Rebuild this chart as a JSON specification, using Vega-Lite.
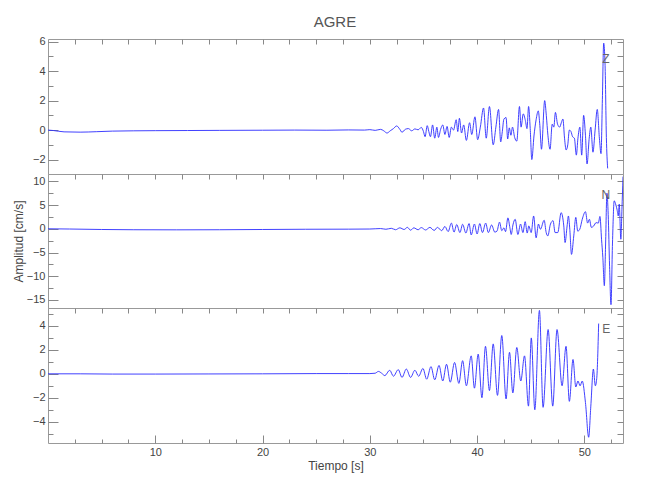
{
  "$schema": "https://vega.github.io/schema/vega-lite/v6.json",
  "background": "white",
  "padding": {"left": 11, "top": 15, "right": 5, "bottom": 5},
  "title": {"text": "AGRE", "font": "Liberation Sans", "fontSize": 15, "fontWeight": "normal", "color": "#555555", "anchor": "middle", "offset": 5, "dx": 17},
  "config": {
    "view": {"stroke": "#999999", "strokeWidth": 1},
    "axis": {"domain": false, "grid": false, "tickColor": "#888888", "tickWidth": 1, "labelColor": "#444444", "labelFont": "Liberation Sans", "labelFontSize": 11, "titleFont": "Liberation Sans", "titleFontSize": 12, "titleColor": "#444444", "titleFontWeight": "normal", "labelOverlap": false, "labelFlush": false},
    "text": {"font": "Liberation Sans"}
  },
  "datasets": {
    "z": [
      {"t":0,"v":0},{"t":0.5,"v":-0.03},{"t":1.5,"v":-0.12},{"t":3,"v":-0.14},{"t":4.5,"v":-0.11},{"t":6,"v":-0.07},{"t":8,"v":-0.05},{"t":10,"v":-0.04},{"t":13,"v":-0.03},{"t":16,"v":-0.02},{"t":20,"v":-0.01},{"t":23,"v":0},{"t":26,"v":-0.01},{"t":28,"v":0.01},{"t":29.5,"v":0},{"t":30,"v":0.03},{"t":30.5,"v":-0.02},{"t":31,"v":0.05},{"t":31.3,"v":-0.05},{"t":31.6,"v":-0.2},{"t":31.9,"v":-0.05},{"t":32.2,"v":0.1},{"t":32.5,"v":0.28},{"t":32.8,"v":0.05},{"t":33.0,"v":-0.15},{"t":33.3,"v":0.05},{"t":33.6,"v":0.1},{"t":33.9,"v":-0.05},{"t":34.2,"v":0.08},{"t":34.5,"v":0.02},{"t":34.8,"v":0.18},{"t":35.0,"v":-0.1},{"t":35.15,"v":-0.45},{"t":35.35,"v":0.3},{"t":35.5,"v":-0.1},{"t":35.65,"v":-0.45},{"t":35.85,"v":0.35},{"t":36.05,"v":-0.55},{"t":36.25,"v":0.2},{"t":36.4,"v":-0.5},{"t":36.6,"v":0.05},{"t":36.8,"v":0.35},{"t":37.0,"v":-0.3},{"t":37.2,"v":0.25},{"t":37.4,"v":-0.5},{"t":37.6,"v":0.2},{"t":37.8,"v":0.0},{"t":38.05,"v":0.7},{"t":38.2,"v":-0.1},{"t":38.35,"v":0.8},{"t":38.55,"v":-0.2},{"t":38.75,"v":0.35},{"t":39.0,"v":-0.7},{"t":39.3,"v":0.5},{"t":39.5,"v":-0.3},{"t":39.8,"v":0.9},{"t":40.05,"v":-0.65},{"t":40.3,"v":0.2},{"t":40.6,"v":1.5},{"t":40.85,"v":-0.55},{"t":41.15,"v":1.6},{"t":41.5,"v":-1.0},{"t":41.75,"v":0.2},{"t":42.0,"v":1.4},{"t":42.2,"v":-0.8},{"t":42.35,"v":-0.1},{"t":42.5,"v":0.75},{"t":42.7,"v":0.85},{"t":42.85,"v":-0.6},{"t":43.0,"v":0.15},{"t":43.15,"v":-0.35},{"t":43.3,"v":0.2},{"t":43.5,"v":-0.5},{"t":43.7,"v":-0.75},{"t":43.95,"v":1.6},{"t":44.1,"v":0.2},{"t":44.3,"v":1.1},{"t":44.5,"v":0.65},{"t":44.65,"v":0.1},{"t":44.8,"v":1.6},{"t":44.95,"v":0.1},{"t":45.1,"v":-2.0},{"t":45.3,"v":-0.4},{"t":45.5,"v":0.7},{"t":45.7,"v":1.3},{"t":45.85,"v":0.3},{"t":46.0,"v":-1.3},{"t":46.3,"v":2.0},{"t":46.45,"v":1.0},{"t":46.6,"v":-0.35},{"t":46.8,"v":-1.3},{"t":47.0,"v":0.4},{"t":47.15,"v":0.2},{"t":47.3,"v":1.2},{"t":47.5,"v":0.4},{"t":47.7,"v":0.2},{"t":47.85,"v":0.5},{"t":48.0,"v":0.75},{"t":48.15,"v":-0.55},{"t":48.3,"v":-1.35},{"t":48.45,"v":-1.0},{"t":48.6,"v":0.0},{"t":48.75,"v":-0.1},{"t":48.9,"v":-0.45},{"t":49.07,"v":-0.55},{"t":49.25,"v":-1.7},{"t":49.4,"v":-0.55},{"t":49.58,"v":0.2},{"t":49.75,"v":-1.7},{"t":49.93,"v":1.0},{"t":50.1,"v":-0.35},{"t":50.25,"v":-2.3},{"t":50.45,"v":-0.55},{"t":50.6,"v":0.2},{"t":50.8,"v":-1.5},{"t":51.0,"v":0.0},{"t":51.2,"v":1.4},{"t":51.4,"v":-0.55},{"t":51.55,"v":-1.6},{"t":51.67,"v":1.8},{"t":51.8,"v":5.9},{"t":51.93,"v":4.4},{"t":52.05,"v":-0.5},{"t":52.17,"v":-2.6}
    ],
    "n": [
      {"t":0,"v":0},{"t":2,"v":-0.05},{"t":5,"v":-0.15},{"t":8,"v":-0.2},{"t":12,"v":-0.22},{"t":16,"v":-0.2},{"t":20,"v":-0.15},{"t":24,"v":-0.1},{"t":28,"v":-0.08},{"t":30,"v":-0.05},{"t":31,"v":0.05},{"t":31.5,"v":-0.1},{"t":32,"v":0.1},{"t":32.4,"v":-0.2},{"t":32.8,"v":0.2},{"t":33.2,"v":-0.15},{"t":33.5,"v":0.3},{"t":33.8,"v":-0.3},{"t":34.1,"v":0.2},{"t":34.5,"v":-0.2},{"t":34.8,"v":0.25},{"t":35.2,"v":-0.25},{"t":35.6,"v":0.3},{"t":36.0,"v":-0.35},{"t":36.3,"v":0.3},{"t":36.7,"v":-0.4},{"t":37.0,"v":0.5},{"t":37.3,"v":-0.6},{"t":37.6,"v":1.2},{"t":37.85,"v":-0.7},{"t":38.1,"v":0.9},{"t":38.4,"v":-0.8},{"t":38.65,"v":0.95},{"t":38.95,"v":-0.9},{"t":39.25,"v":1.1},{"t":39.45,"v":-1.3},{"t":39.75,"v":1.0},{"t":40.0,"v":-1.1},{"t":40.25,"v":1.1},{"t":40.5,"v":-0.8},{"t":40.8,"v":1.2},{"t":41.05,"v":-0.8},{"t":41.35,"v":0.8},{"t":41.65,"v":-0.7},{"t":41.85,"v":-0.5},{"t":42.09,"v":1.4},{"t":42.3,"v":-0.4},{"t":42.5,"v":0.2},{"t":42.65,"v":-0.6},{"t":42.87,"v":2.3},{"t":43.06,"v":0.2},{"t":43.18,"v":-1.2},{"t":43.34,"v":0.8},{"t":43.55,"v":2.0},{"t":43.8,"v":-1.2},{"t":44.05,"v":1.0},{"t":44.27,"v":-0.8},{"t":44.48,"v":1.5},{"t":44.67,"v":-0.9},{"t":44.82,"v":0.6},{"t":45.04,"v":-0.8},{"t":45.27,"v":2.7},{"t":45.5,"v":-1.9},{"t":45.72,"v":1.0},{"t":45.9,"v":-0.1},{"t":46.25,"v":1.8},{"t":46.44,"v":-0.8},{"t":46.59,"v":-1.5},{"t":46.84,"v":1.0},{"t":47.08,"v":1.7},{"t":47.27,"v":-0.8},{"t":47.52,"v":-0.8},{"t":47.83,"v":3.4},{"t":48.08,"v":0.6},{"t":48.2,"v":-2.9},{"t":48.39,"v":0.6},{"t":48.51,"v":2.7},{"t":48.64,"v":-0.1},{"t":48.8,"v":-5.4},{"t":49.01,"v":-1.5},{"t":49.2,"v":2.4},{"t":49.38,"v":-0.5},{"t":49.57,"v":-0.1},{"t":49.8,"v":2.0},{"t":50.1,"v":3.6},{"t":50.3,"v":1.2},{"t":50.47,"v":2.0},{"t":50.65,"v":0.3},{"t":50.87,"v":0.6},{"t":51.09,"v":1.3},{"t":51.3,"v":1.2},{"t":51.45,"v":2.6},{"t":51.6,"v":-2.2},{"t":51.72,"v":-6.0},{"t":51.86,"v":-12.0},{"t":51.98,"v":-3.0},{"t":52.1,"v":7.5},{"t":52.22,"v":3.0},{"t":52.35,"v":-8.0},{"t":52.48,"v":-16.0},{"t":52.62,"v":-3.0},{"t":52.78,"v":5.9},{"t":52.94,"v":5.0},{"t":53.05,"v":4.0},{"t":53.16,"v":2.7},{"t":53.25,"v":5.2},{"t":53.4,"v":-2.2},{"t":53.5,"v":4.0},{"t":53.6,"v":11.0}
    ],
    "e": [
      {"t":0,"v":0},{"t":3,"v":0},{"t":6,"v":-0.02},{"t":10,"v":-0.02},{"t":15,"v":-0.01},{"t":20,"v":0},{"t":25,"v":0.02},{"t":28,"v":0.02},{"t":30,"v":0.02},{"t":30.5,"v":0.05},{"t":30.8,"v":0.2},{"t":31.1,"v":0.05},{"t":31.4,"v":-0.15},{"t":31.85,"v":0.3},{"t":32.2,"v":-0.2},{"t":32.65,"v":0.35},{"t":33.0,"v":-0.3},{"t":33.4,"v":0.4},{"t":33.8,"v":-0.3},{"t":34.2,"v":0.3},{"t":34.55,"v":-0.2},{"t":34.95,"v":0.45},{"t":35.3,"v":-0.45},{"t":35.7,"v":0.6},{"t":36.05,"v":-0.5},{"t":36.45,"v":0.7},{"t":36.8,"v":-0.6},{"t":37.15,"v":0.8},{"t":37.5,"v":-0.7},{"t":37.9,"v":0.95},{"t":38.3,"v":-0.8},{"t":38.65,"v":1.1},{"t":39.0,"v":-1.0},{"t":39.45,"v":1.5},{"t":39.75,"v":-1.2},{"t":40.1,"v":1.65},{"t":40.45,"v":-2.0},{"t":40.78,"v":2.3},{"t":41.15,"v":-1.4},{"t":41.5,"v":2.5},{"t":41.9,"v":-1.8},{"t":42.3,"v":3.2},{"t":42.7,"v":-2.1},{"t":43.02,"v":1.8},{"t":43.33,"v":-1.6},{"t":43.7,"v":2.2},{"t":44.07,"v":-0.6},{"t":44.42,"v":1.5},{"t":44.79,"v":-2.7},{"t":45.05,"v":3.0},{"t":45.38,"v":-3.0},{"t":45.81,"v":5.3},{"t":46.15,"v":-2.8},{"t":46.62,"v":3.7},{"t":47.05,"v":-2.7},{"t":47.45,"v":3.7},{"t":47.92,"v":-1.0},{"t":48.29,"v":2.3},{"t":48.6,"v":-2.3},{"t":48.94,"v":1.2},{"t":49.2,"v":-1.1},{"t":49.4,"v":-0.6},{"t":49.6,"v":-1.0},{"t":49.8,"v":-0.6},{"t":50.1,"v":-2.4},{"t":50.4,"v":-5.3},{"t":50.6,"v":-2.7},{"t":50.84,"v":0.4},{"t":51.02,"v":-1.0},{"t":51.15,"v":-0.4},{"t":51.33,"v":4.2}
    ],
    "lz": [{"t":52.0,"v":4.82,"label":"Z"}],
    "ln": [{"t":52.0,"v":7.2,"label":"N"}],
    "le": [{"t":52.03,"v":3.78,"label":"E"}]
  },
  "bounds": "flush",
  "spacing": 0,
  "vconcat": [
    {
      "width": 575, "height": 135,
      "layer": [
        {"data": {"name": "z"},
         "mark": {"type": "line", "stroke": "#2b2bff", "strokeWidth": 0.9, "interpolate": "monotone", "clip": true},
         "encoding": {
           "x": {"field": "t", "type": "quantitative", "scale": {"domain": [0, 53.6], "nice": false, "zero": false},
                 "axis": {"orient": "top", "values": [2.5,5,7.5,10,12.5,15,17.5,20,22.5,25,27.5,30,32.5,35,37.5,40,42.5,45,47.5,50,52.5], "labels": false, "tickSize": -5, "title": null}},
           "y": {"field": "v", "type": "quantitative", "scale": {"domain": [-2.98, 6.18], "nice": false, "zero": false},
                 "axis": {"orient": "left", "values": [-2,0,2,4,6], "tickSize": -10, "labelPadding": 13, "format": "d", "title": null}}
         }},
        {"data": {"name": "lz"},
         "mark": {"type": "text", "fontSize": 12, "color": "#666666", "align": "center", "baseline": "middle"},
         "encoding": {
           "x": {"field": "t", "type": "quantitative", "scale": {"domain": [0, 53.6], "nice": false, "zero": false}, "axis": null},
           "y": {"field": "v", "type": "quantitative", "scale": {"domain": [-2.98, 6.18], "nice": false, "zero": false},
                 "axis": {"orient": "left", "values": [-1,1,3,5], "tickSize": -5, "labels": false, "title": null}},
           "text": {"field": "label"}
         }},
        {"data": {"name": "lz"},
         "mark": {"type": "point", "opacity": 0},
         "encoding": {
           "x": {"field": "t", "type": "quantitative", "scale": {"domain": [0, 53.6], "nice": false, "zero": false}, "axis": null},
           "y": {"field": "v", "type": "quantitative", "scale": {"domain": [-2.98, 6.18], "nice": false, "zero": false},
                 "axis": {"orient": "right", "values": [-2,-1,0,1,2,3,4,5,6], "tickSize": -6, "labels": false, "title": null}}
         }}
      ],
      "resolve": {"axis": {"x": "independent", "y": "independent"}}
    },
    {
      "width": 575, "height": 134,
      "layer": [
        {"data": {"name": "n"},
         "mark": {"type": "line", "stroke": "#2b2bff", "strokeWidth": 0.9, "interpolate": "monotone", "clip": true},
         "encoding": {
           "x": {"field": "t", "type": "quantitative", "scale": {"domain": [0, 53.6], "nice": false, "zero": false},
                 "axis": {"orient": "top", "values": [2.5,5,7.5,10,12.5,15,17.5,20,22.5,25,27.5,30,32.5,35,37.5,40,42.5,45,47.5,50,52.5], "labels": false, "tickSize": -5, "title": null}},
           "y": {"field": "v", "type": "quantitative", "scale": {"domain": [-16.7, 11.55], "nice": false, "zero": false},
                 "axis": {"orient": "left", "values": [-15,-10,-5,0,5,10], "tickSize": -10, "labelPadding": 13, "format": "d", "title": "Amplitud [cm/s]", "titlePadding": 1}}
         }},
        {"data": {"name": "ln"},
         "mark": {"type": "text", "fontSize": 12, "color": "#666666", "align": "center", "baseline": "middle"},
         "encoding": {
           "x": {"field": "t", "type": "quantitative", "scale": {"domain": [0, 53.6], "nice": false, "zero": false}, "axis": null},
           "y": {"field": "v", "type": "quantitative", "scale": {"domain": [-16.7, 11.55], "nice": false, "zero": false},
                 "axis": {"orient": "left", "values": [-12.5,-7.5,-2.5,2.5,7.5], "tickSize": -5, "labels": false, "title": null}},
           "text": {"field": "label"}
         }},
        {"data": {"name": "ln"},
         "mark": {"type": "point", "opacity": 0},
         "encoding": {
           "x": {"field": "t", "type": "quantitative", "scale": {"domain": [0, 53.6], "nice": false, "zero": false}, "axis": null},
           "y": {"field": "v", "type": "quantitative", "scale": {"domain": [-16.7, 11.55], "nice": false, "zero": false},
                 "axis": {"orient": "right", "values": [-15,-12.5,-10,-7.5,-5,-2.5,0,2.5,5,7.5,10], "tickSize": -6, "labels": false, "title": null}}
         }}
      ],
      "resolve": {"axis": {"x": "independent", "y": "independent"}}
    },
    {
      "width": 575, "height": 135,
      "layer": [
        {"data": {"name": "e"},
         "mark": {"type": "line", "stroke": "#2b2bff", "strokeWidth": 0.9, "interpolate": "monotone", "clip": true},
         "encoding": {
           "x": {"field": "t", "type": "quantitative", "scale": {"domain": [0, 53.6], "nice": false, "zero": false},
                 "axis": {"orient": "top", "values": [2.5,5,7.5,10,12.5,15,17.5,20,22.5,25,27.5,30,32.5,35,37.5,40,42.5,45,47.5,50,52.5], "labels": false, "tickSize": -5, "title": null}},
           "y": {"field": "v", "type": "quantitative", "scale": {"domain": [-5.78, 5.5], "nice": false, "zero": false},
                 "axis": {"orient": "left", "values": [-4,-2,0,2,4], "tickSize": -10, "labelPadding": 13, "format": "d", "title": null}}
         }},
        {"data": {"name": "le"},
         "mark": {"type": "text", "fontSize": 12, "color": "#666666", "align": "center", "baseline": "middle"},
         "encoding": {
           "x": {"field": "t", "type": "quantitative", "scale": {"domain": [0, 53.6], "nice": false, "zero": false},
                 "axis": {"orient": "bottom", "values": [10,20,30,40,50], "tickSize": -8, "labelPadding": 11, "format": "d", "title": "Tiempo [s]", "titlePadding": 3}},
           "y": {"field": "v", "type": "quantitative", "scale": {"domain": [-5.78, 5.5], "nice": false, "zero": false},
                 "axis": {"orient": "left", "values": [-5,-3,-1,1,3,5], "tickSize": -5, "labels": false, "title": null}},
           "text": {"field": "label"}
         }},
        {"data": {"name": "le"},
         "mark": {"type": "point", "opacity": 0},
         "encoding": {
           "x": {"field": "t", "type": "quantitative", "scale": {"domain": [0, 53.6], "nice": false, "zero": false},
                 "axis": {"orient": "bottom", "values": [2.5,5,7.5,12.5,15,17.5,22.5,25,27.5,32.5,35,37.5,42.5,45,47.5,52.5], "tickSize": -4, "labels": false, "title": null}},
           "y": {"field": "v", "type": "quantitative", "scale": {"domain": [-5.78, 5.5], "nice": false, "zero": false},
                 "axis": {"orient": "right", "values": [-5,-4,-3,-2,-1,0,1,2,3,4,5], "tickSize": -6, "labels": false, "title": null}}
         }}
      ],
      "resolve": {"axis": {"x": "independent", "y": "independent"}}
    }
  ]
}
